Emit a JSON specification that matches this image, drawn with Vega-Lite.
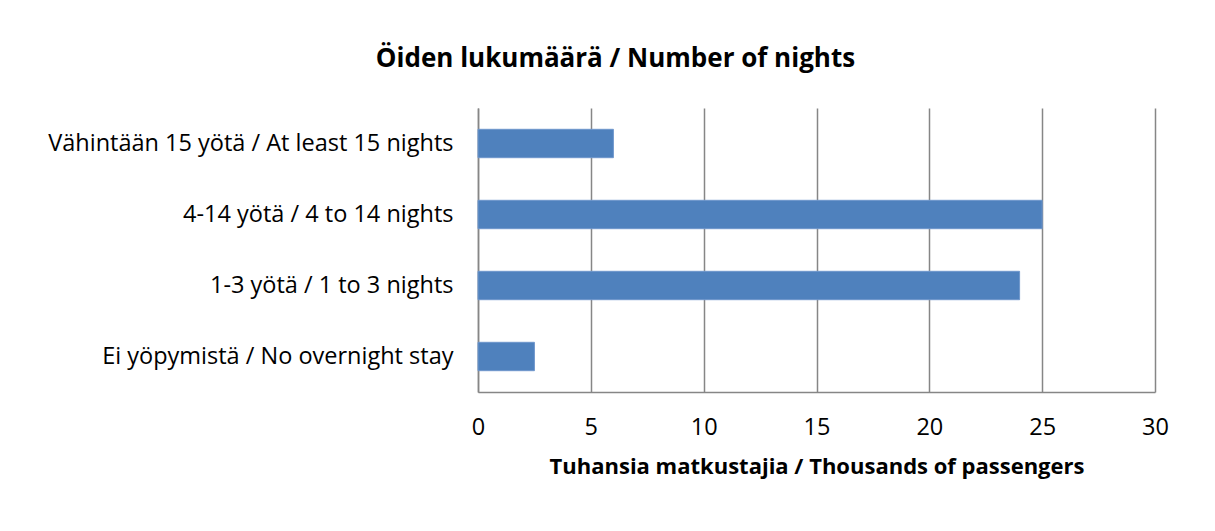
{
  "$schema": "https://vega.github.io/schema/vega-lite/v6.json",
  "autosize": "none",
  "width": 677,
  "height": 284,
  "padding": {"left": 478, "top": 108, "right": 60, "bottom": 139},
  "background": "white",
  "title": {
    "text": "Öiden lukumäärä / Number of nights",
    "font": "Open Sans",
    "fontSize": 26,
    "fontWeight": "bold",
    "color": "#000000",
    "anchor": "middle",
    "dx": -201,
    "offset": 36
  },
  "data": {
    "values": [
      {"category": "Vähintään 15 yötä / At least 15 nights", "value": 6},
      {"category": "4-14 yötä / 4 to 14 nights", "value": 25},
      {"category": "1-3 yötä / 1 to 3 nights", "value": 24},
      {"category": "Ei yöpymistä / No overnight stay", "value": 2.5}
    ]
  },
  "mark": {"type": "bar", "color": "#4F81BD", "stroke": "#6F97CC", "strokeWidth": 1},
  "encoding": {
    "y": {
      "field": "category",
      "type": "nominal",
      "sort": null,
      "scale": {"paddingInner": 0.6, "paddingOuter": 0.3},
      "axis": {
        "title": null,
        "ticks": false,
        "labelPadding": 25,
        "labelFont": "Open Sans",
        "labelFontSize": 23.5,
        "labelColor": "#000000",
        "labelLimit": 500,
        "domainColor": "#868686",
        "domainWidth": 1.5
      }
    },
    "x": {
      "field": "value",
      "type": "quantitative",
      "scale": {"domain": [0, 30], "nice": false},
      "axis": {
        "title": "Tuhansia matkustajia / Thousands of passengers",
        "titleFont": "Open Sans",
        "titleFontSize": 22,
        "titleFontWeight": "bold",
        "titleColor": "#000000",
        "titlePadding": 18,
        "values": [0, 5, 10, 15, 20, 25, 30],
        "ticks": false,
        "labelPadding": 23,
        "labelFont": "Open Sans",
        "labelFontSize": 23.5,
        "labelColor": "#000000",
        "labelFlush": false,
        "domainColor": "#868686",
        "domainWidth": 1.5,
        "gridColor": "#868686",
        "gridWidth": 1.5,
        "gridOpacity": 1
      }
    }
  },
  "config": {"view": {"stroke": null}}
}
